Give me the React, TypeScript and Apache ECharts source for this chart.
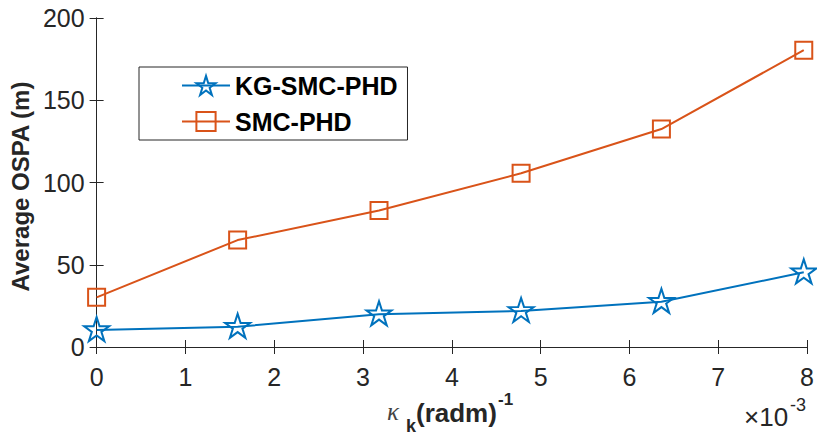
import React, { useEffect, useRef } from "react";
import * as echarts from "echarts";

// Pointing error (units of 1e-3 rad/m) and average OSPA (m)
const kappaValues = [0, 1.588, 3.18, 4.78, 6.36, 7.963];
const kgSmcPhd = [10.3, 12.3, 19.9, 21.9, 27.5, 45.4];
const smcPhd = [30.2, 65.0, 83.0, 105.6, 132.5, 180.4];
const seriesNames = ["KG-SMC-PHD", "SMC-PHD"];
const xTicks = [0, 1, 2, 3, 4, 5, 6, 7, 8];
const yTicks = [0, 50, 100, 150, 200];

const BLUE = "#0072BD";
const ORANGE = "#D95319";
const AXIS = "#262626";
const FONT = "'Liberation Sans', Arial, Helvetica, sans-serif";

const STAR =
  "path://M0,-50L11.23,-15.45L47.55,-15.45L18.17,5.9L29.39,40.45L0,19.1L-29.39,40.45L-18.17,5.9L-47.55,-15.45L-11.23,-15.45Z";

export default function App() {
  const ref = useRef<HTMLDivElement>(null);

  useEffect(() => {
    if (!ref.current) return;
    const chart = echarts.init(ref.current, null, { renderer: "svg" });

    const pair = (xs: number[], ys: number[]) => xs.map((x, i) => [x, ys[i]]);

    const baseX = {
      type: "value" as const,
      min: xTicks[0],
      max: xTicks[xTicks.length - 1],
      interval: 1,
      axisLine: { show: true, lineStyle: { color: AXIS, width: 1 } },
      axisTick: { show: true, inside: true, length: 7, lineStyle: { color: AXIS } },
      splitLine: { show: false },
    };
    const baseY = {
      type: "value" as const,
      min: yTicks[0],
      max: yTicks[yTicks.length - 1],
      interval: 50,
      axisLine: { show: true, lineStyle: { color: AXIS, width: 1 } },
      axisTick: { show: true, inside: true, length: 7, lineStyle: { color: AXIS } },
      splitLine: { show: false },
    };

    chart.setOption({
      animation: false,
      backgroundColor: "#ffffff",
      grid: { left: 96, right: 7, top: 18, bottom: 94, containLabel: false },
      xAxis: [
        {
          ...baseX,
          position: "bottom",
          axisLabel: {
            show: true,
            color: AXIS,
            fontFamily: FONT,
            fontSize: 25,
            margin: 17,
          },
        },
        {
          ...baseX,
          position: "top",
          axisLabel: { show: false },
        },
      ],
      yAxis: [
        {
          ...baseY,
          position: "left",
          axisLabel: {
            show: true,
            color: AXIS,
            fontFamily: FONT,
            fontSize: 25,
            margin: 12,
          },
          name: "Average OSPA (m)",
          nameLocation: "middle",
          nameRotate: 90,
          nameGap: 60,
          nameTextStyle: {
            color: AXIS,
            fontFamily: FONT,
            fontWeight: "bold",
            fontSize: 24,
            padding: [0, 8, 0, 0],
          },
        },
        {
          ...baseY,
          position: "right",
          axisLabel: { show: false },
        },
      ],
      legend: {
        orient: "vertical",
        left: 139,
        top: 67,
        data: seriesNames,
        itemWidth: 48,
        itemHeight: 24,
        itemGap: 11,
        padding: [6, 10, 6, 42],
        borderColor: AXIS,
        borderWidth: 1,
        backgroundColor: "#ffffff",
        textStyle: {
          color: "#000000",
          fontFamily: FONT,
          fontWeight: "bold",
          fontSize: 25,
        },
      },
      series: [
        {
          name: seriesNames[0],
          type: "line",
          data: pair(kappaValues, kgSmcPhd),
          symbol: STAR,
          symbolSize: [25, 24],
          symbolOffset: [0, -1],
          lineStyle: { color: BLUE, width: 2 },
          itemStyle: { color: "rgba(255,255,255,0)", borderColor: BLUE, borderWidth: 2 },
          z: 3,
        },
        {
          name: seriesNames[1],
          type: "line",
          data: pair(kappaValues, smcPhd),
          symbol: "rect",
          symbolSize: 17,
          lineStyle: { color: ORANGE, width: 2 },
          itemStyle: { color: "rgba(255,255,255,0)", borderColor: ORANGE, borderWidth: 2 },
          z: 2,
        },
      ],
      graphic: [
        // x-axis title: kappa_k (radm)^-1
        {
          type: "text",
          left: 387,
          top: 399,
          style: {
            text: "\u03BA",
            font: "italic 25px 'Liberation Serif', serif",
            fill: "#444444",
          },
        },
        {
          type: "text",
          left: 406,
          top: 417,
          style: {
            text: "k",
            font: `bold 18px ${FONT}`,
            fill: AXIS,
          },
        },
        {
          type: "text",
          left: 416,
          top: 400,
          style: {
            text: "(radm)",
            font: `bold 26px ${FONT}`,
            fill: AXIS,
          },
        },
        {
          type: "text",
          left: 498,
          top: 391,
          style: {
            text: "-1",
            font: `bold 17px ${FONT}`,
            fill: AXIS,
          },
        },
        // exponent of the x axis
        {
          type: "text",
          left: 744,
          top: 404,
          style: {
            text: "\u00D710",
            font: `26px ${FONT}`,
            fill: AXIS,
          },
        },
        {
          type: "text",
          left: 790,
          top: 396,
          style: {
            text: "-3",
            font: `18px ${FONT}`,
            fill: AXIS,
          },
        },
      ],
    });

    return () => chart.dispose();
  }, []);

  return <div ref={ref} style={{ width: 817, height: 441, position: "absolute", left: 0, top: 0 }} />;
}
